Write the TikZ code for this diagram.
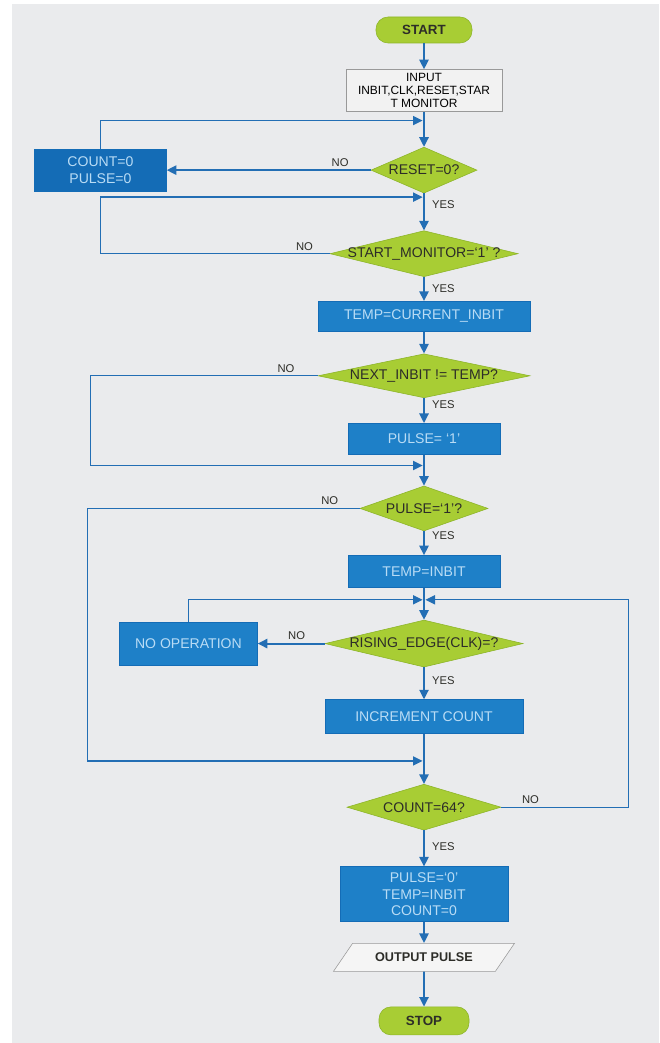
\documentclass[tikz,border=0pt]{standalone}
\usepackage{fontspec}
\setmainfont{Liberation Sans}
\usepackage{tikz}
\usetikzlibrary{shapes.geometric, arrows.meta, positioning, calc}
\definecolor{cPaper}{RGB}{234,235,237}
\definecolor{cLine}{RGB}{35,110,180}
\definecolor{cGreen}{RGB}{168,205,52}
\definecolor{cGreenDk}{RGB}{140,180,40}
\definecolor{cBlue}{RGB}{30,128,200}
\definecolor{cBlueDk}{RGB}{20,108,182}
\definecolor{cBoxTxt}{RGB}{185,220,245}
\definecolor{cDark}{RGB}{45,45,40}
\tikzset{
	startstop/.style={rectangle, rounded corners=0.3cm, minimum width=2.4cm, minimum height=0.65cm, draw=cGreenDk, fill=cGreen, text=cDark, font=\fontsize{9.5}{11}\selectfont\bfseries},
	inbox/.style    ={rectangle, draw=black!40, fill=black!5, align=center, text=black, inner sep=1pt, font=\fontsize{8.5}{9.5}\selectfont},
	process/.style  ={rectangle, draw=cBlueDk, fill=cBlue, align=center, text=cBoxTxt, font=\fontsize{10}{11.5}\selectfont},
	decision/.style ={diamond, draw=cGreenDk, fill=cGreen, inner sep=0pt, text=cDark, font=\fontsize{10}{11}\selectfont},
	ioput/.style    ={trapezium, trapezium left angle=52, trapezium right angle=128, trapezium stretches=true, draw=black!40, fill=black!4, text=cDark, font=\fontsize{9}{10}\selectfont\bfseries},
	flowarrow/.style={draw=cLine, line width=1.4pt, -{Triangle[length=2.4mm, width=2.3mm]}},
	loopline/.style ={draw=cLine, line width=0.9pt, -{Triangle[length=2.4mm, width=2.3mm]}, shorten >=1pt},
	lbl/.style      ={text=cDark, font=\fontsize{8}{9}\selectfont, inner sep=2pt},
}
\newcommand{\dtext}[1]{\makebox[0pt]{#1}}

\begin{document}
\begin{tikzpicture}
	\fill[white] (0,0) rectangle (16.475,-26.075);
	\fill[cPaper] (0.3,-0.1) rectangle (16.475,-26.075);
	\useasboundingbox (0,0) rectangle (16.475,-26.075);
	% main column
	\node[startstop] (st) at (10.6,-0.75) {START};
	\node[inbox, minimum width=3.9cm, minimum height=1.05cm, below=0.65cm of st] (in) {INPUT\\INBIT,CLK,RESET,STAR\\T MONITOR};
	\node[decision, minimum width=2.65cm, minimum height=1.15cm, below=0.875cm of in] (rst) {\dtext{RESET=0?}};
	\node[decision, minimum width=4.7cm, minimum height=1.15cm, below=0.925cm of rst] (mon) {\dtext{START\_MONITOR=`1' ?}};
	\node[process, minimum width=5.3cm, minimum height=0.75cm, below=0.6cm of mon] (tmp) {TEMP=CURRENT\_INBIT};
	\node[decision, minimum width=5.3cm, minimum height=1.1cm, below=0.55cm of tmp] (nxt) {\dtext{NEXT\_INBIT != TEMP?}};
	\node[process, minimum width=3.8cm, minimum height=0.775cm, below=0.625cm of nxt] (pls) {PULSE= `1'};
	\node[decision, minimum width=3.2cm, minimum height=1.125cm, below=0.775cm of pls] (chk) {\dtext{PULSE=`1'?}};
	\node[process, minimum width=3.8cm, minimum height=0.8cm, below=0.6cm of chk] (tin) {TEMP=INBIT};
	\node[decision, minimum width=4.95cm, minimum height=1.175cm, below=0.8cm of tin] (edge) {\dtext{RISING\_EDGE(CLK)=?}};
	\node[process, minimum width=4.95cm, minimum height=0.85cm, below=0.8cm of edge] (inc) {INCREMENT COUNT};
	\node[decision, minimum width=3.85cm, minimum height=1.15cm, below=1.25cm of inc] (cnt) {\dtext{COUNT=64?}};
	\node[process, minimum width=4.2cm, minimum height=1.375cm, below=0.9cm of cnt] (clr2) {PULSE=`0'\\TEMP=INBIT\\COUNT=0};
	\node[ioput, minimum width=4.55cm, minimum height=0.7cm, below=0.525cm of clr2] (out) {OUTPUT PULSE};
	\node[startstop, minimum width=2.25cm, minimum height=0.7cm, below=0.875cm of out] (stop) {STOP};
	% side boxes
	\node[process, fill=cBlueDk, minimum width=3.3cm, minimum height=1.05cm, left=5.1cm of rst] (clr) {COUNT=0\\PULSE=0};
	\node[process, minimum width=3.45cm, minimum height=1.075cm, left=1.675cm of edge] (nop) {NO OPERATION};
	% merge points
	\coordinate (m1) at ($(in.south)!0.25!(rst.north)$);
	\coordinate (m2) at ($(rst.south)!0.1!(mon.north)$);
	\coordinate (m3) at ($(pls.south)!0.35!(chk.north)$);
	\coordinate (m4) at ($(inc.south)!0.54!(cnt.north)$);
	\coordinate (m5) at ($(tin.south)!0.375!(edge.north)$);
	% straight flow
	\draw[flowarrow] (st) -- (in);
	\draw[flowarrow] (in) -- (rst);
	\draw[flowarrow] (rst) -- node[lbl, right, pos=0.3, xshift=3pt] {YES} (mon);
	\draw[flowarrow] (mon) -- node[lbl, right, pos=0.5, xshift=3pt] {YES} (tmp);
	\draw[flowarrow] (tmp) -- (nxt);
	\draw[flowarrow] (nxt) -- node[lbl, right, pos=0.25, xshift=3pt] {YES} (pls);
	\draw[flowarrow] (pls) -- (chk);
	\draw[flowarrow] (chk) -- node[lbl, right, pos=0.2, xshift=3pt] {YES} (tin);
	\draw[flowarrow] (tin) -- (edge);
	\draw[flowarrow] (edge) -- node[lbl, right, pos=0.4, xshift=3pt] {YES} (inc);
	\draw[flowarrow] (inc) -- (cnt);
	\draw[flowarrow] (cnt) -- node[lbl, right, pos=0.45, xshift=3pt] {YES} (clr2);
	\draw[flowarrow] (clr2) -- (out);
	\draw[flowarrow] (out) -- (stop);
	% NO branches
	\draw[flowarrow] (rst.west) -- node[lbl, above, pos=0.15] {NO} (clr.east |- rst.west);
	\draw[loopline] (clr.north) |- (m1);
	\draw[loopline] (mon.west) -- node[lbl, above, pos=0.11] {NO} (mon.west -| clr) |- (m2);
	\draw[loopline] (nxt.west) -- node[lbl, above, pos=0.14] {NO} ++(-5.675,0) |- (m3);
	\draw[loopline] (chk.west) -- node[lbl, above, pos=0.11] {NO} ++(-6.8,0) |- (m4);
	\draw[flowarrow] (edge.west) -- node[lbl, above, pos=0.42] {NO} (nop.east |- edge.west);
	\draw[loopline] (nop.north) |- (m5);
	\draw[loopline] (cnt.east) -- node[lbl, above, pos=0.23] {NO} ++(3.175,0) |- (m5);
\end{tikzpicture}
\end{document}
